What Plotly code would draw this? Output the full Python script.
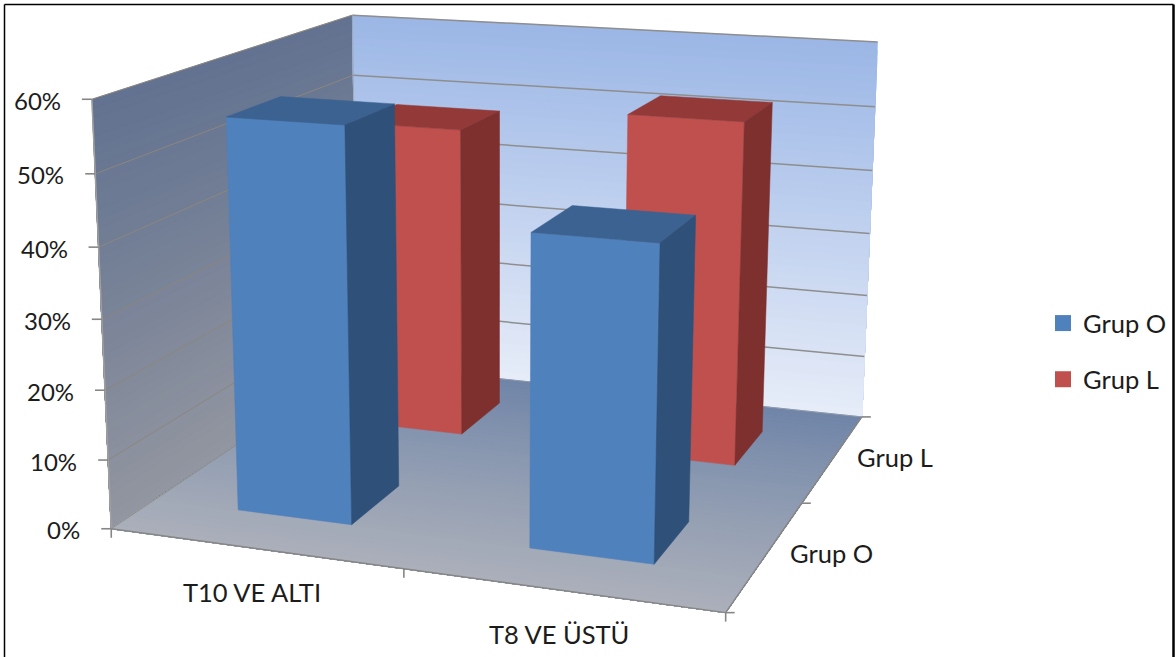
import numpy as np
import plotly.graph_objects as go

# Chart data
categories = ["T10 VE ALTI", "T8 VE ÜSTÜ"]
series_names = ["Grup O", "Grup L"]
grup_o = [0.5625, 0.4375]
grup_l = [0.48, 0.52]
value_ticks = [0.0, 0.1, 0.2, 0.3, 0.4, 0.5, 0.6]
value_labels = ["0%", "10%", "20%", "30%", "40%", "50%", "60%"]

# Perspective camera for the 3-D box: (category, series, value) -> pixels
CAMERA = np.array([
    [274.304397, 166.915765, -39.601379, 111.258694],
    [14.162018, -38.194385, -723.753295, 528.763052],
    [-0.045334, 0.121832, -0.079722, 1.0],
])
BAR_LO, BAR_HI = 0.3, 0.7      # bar extent inside its cell
VMAX = 0.6
FONT = "Lato"
NUMBER_SIZE = 24
LABEL_SIZE = 25.5
TEXT = "#1c1c1c"
BLUE = dict(front="#4f81bd", top="#3c6291", side="#2f5179")
RED = dict(front="#c0504d", top="#933a38", side="#7d302e")


def project(cat, ser, val):
    h = CAMERA @ np.array([cat, ser, val, 1.0])
    return h[0] / h[2], h[1] / h[2]


def mix(c0, c1, t):
    return "rgb(%d,%d,%d)" % tuple(round(a + (b - a) * t) for a, b in zip(c0, c1))


fig = go.Figure()


def polygon(corners, color):
    pts = [project(*c) for c in corners]
    pts.append(pts[0])
    fig.add_trace(go.Scatter(
        x=[p[0] for p in pts], y=[p[1] for p in pts], mode="lines", fill="toself",
        fillcolor=color, line=dict(color=color, width=0.5),
        hoverinfo="skip", showlegend=False))


def segment(a, b, color, width):
    pa, pb = project(*a), project(*b)
    fig.add_trace(go.Scatter(
        x=[pa[0], pb[0]], y=[pa[1], pb[1]],
        mode="lines", line=dict(color=color, width=width), hoverinfo="skip", showlegend=False))


def tick(a, dx, dy):
    pa = project(*a)
    fig.add_trace(go.Scatter(
        x=[pa[0], pa[0] + dx], y=[pa[1], pa[1] + dy], mode="lines",
        line=dict(color="#868686", width=1.6), hoverinfo="skip", showlegend=False))


# Gradient walls and floor: overlapping bands painted far to near so no seams show
BANDS = 48
for i in range(BANDS):
    t = i / (BANDS - 1)
    z = VMAX * (1 - i / BANDS)
    polygon([(0, 0, 0), (0, 2, 0), (0, 2, z), (0, 0, z)],
            mix((98, 114, 144), (146, 150, 160), t))
for i in range(BANDS):
    t = i / (BANDS - 1)
    z = VMAX * (1 - i / BANDS)
    polygon([(0, 2, 0), (2, 2, 0), (2, 2, z), (0, 2, z)],
            mix((156, 183, 230), (230, 236, 248), t))
for i in range(BANDS):
    t = i / (BANDS - 1)
    s = 2 * (1 - i / BANDS)
    polygon([(0, 0, 0), (2, 0, 0), (2, s, 0), (0, s, 0)],
            mix((112, 133, 168), (170, 175, 186), t))

# Gridlines across both walls
for v in value_ticks[1:]:
    segment((0, 0, v), (0, 2, v), "#8b877d", 1.0)
    segment((0, 2, v), (2, 2, v), "#8e8e8e", 1.5)

# Box outline and axis lines
segment((0, 0, 0), (0, 2, 0), "#8f8f88", 1.0)
segment((0, 2, 0), (2, 2, 0), "#8e98a8", 1.0)
segment((0, 0, 0), (0, 0, VMAX), "#a0a0a0", 1.5)
segment((0, 2, 0), (0, 2, VMAX), "#9aa4b8", 0.8)
segment((0, 0, 0), (2, 0, 0), "#868686", 1.5)
segment((2, 0, 0), (2, 2, 0), "#868686", 1.5)

# Axis tick marks
for v in value_ticks:
    tick((0, 0, v), -10, 0)
for c in (0, 1, 2):
    tick((c, 0, 0), 0, 9)
for s in (0, 1, 2):
    tick((2, s, 0), 9, 0)


def bar(cat, ser, value, colors):
    x0, x1 = cat + BAR_LO, cat + BAR_HI
    y0, y1 = ser + BAR_LO, ser + BAR_HI
    polygon([(x0, y0, 0), (x1, y0, 0), (x1, y0, value), (x0, y0, value)], colors["front"])
    polygon([(x0, y0, value), (x1, y0, value), (x1, y1, value), (x0, y1, value)], colors["top"])
    polygon([(x1, y0, 0), (x1, y1, 0), (x1, y1, value), (x1, y0, value)], colors["side"])


# Rear series first, then the front one over it
for c, value in enumerate(grup_l):
    bar(c, 1, value, RED)
for c, value in enumerate(grup_o):
    bar(c, 0, value, BLUE)

# Legend entries
for name, color in zip(series_names, (BLUE["front"], RED["front"])):
    fig.add_trace(go.Scatter(
        x=[None], y=[None], mode="markers", name=name, legendgroup=name,
        marker=dict(symbol="square", size=16, color=color)))

# Axis labels
annotations = []
for v, label in zip(value_ticks, value_labels):
    px, py = project(0, 0, v)
    annotations.append(dict(x=px - 29, y=py + 1, text=label, xanchor="right", yanchor="middle",
                            font=dict(family=FONT, size=NUMBER_SIZE, color=TEXT)))
for c, label in enumerate(categories):
    px, py = project(c + 0.5, 0, 0)
    annotations.append(dict(x=px - 2, y=py + 44, text=label, xanchor="center", yanchor="middle",
                            font=dict(family=FONT, size=LABEL_SIZE, color=TEXT)))
for s, label in enumerate(series_names):
    px, py = project(2, s + 0.5, 0)
    annotations.append(dict(x=px + 22, y=py - 1, text=label, xanchor="left", yanchor="middle",
                            font=dict(family=FONT, size=LABEL_SIZE, color=TEXT)))
for a in annotations:
    a.update(xref="x", yref="y", showarrow=False)

fig.update_layout(
    width=1176, height=657, autosize=False,
    margin=dict(l=0, r=0, t=0, b=0),
    paper_bgcolor="white", plot_bgcolor="white",
    xaxis=dict(range=[0, 1176], visible=False, fixedrange=True),
    yaxis=dict(range=[657, 0], visible=False, fixedrange=True),
    annotations=annotations,
    legend=dict(x=1043 / 1176, xanchor="left", y=1 - 300 / 657, yanchor="top",
                font=dict(family=FONT, size=LABEL_SIZE, color=TEXT), tracegroupgap=20,
                bgcolor="rgba(0,0,0,0)"),
    shapes=[
        dict(type="line", xref="x", yref="y", x0=4.5, x1=4.5, y0=4.5, y1=657, line=dict(color="black", width=1.5)),
        dict(type="line", xref="x", yref="y", x0=4.5, x1=1173.5, y0=4.5, y1=4.5, line=dict(color="black", width=1.5)),
        dict(type="line", xref="x", yref="y", x0=1173.5, x1=1173.5, y0=4.5, y1=657, line=dict(color="black", width=2.5)),
    ],
)

fig.write_html("out.html", config=dict(displayModeBar=False))
